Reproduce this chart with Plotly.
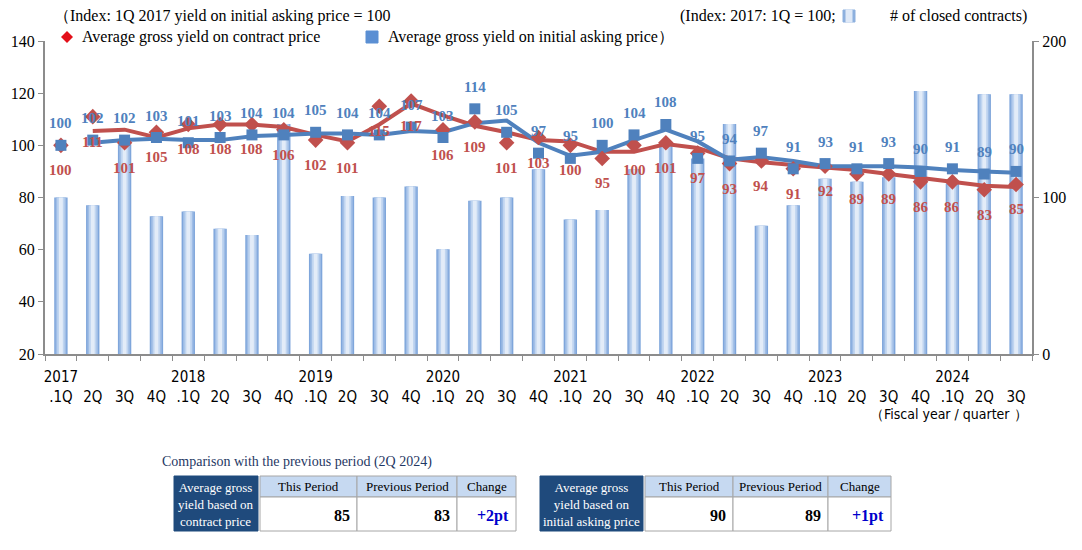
import plotly.graph_objects as go

# quarters 2017 1Q .. 2024 3Q
years = [2017, 2018, 2019, 2020, 2021, 2022, 2023, 2024]
quarters = ["1Q", "2Q", "3Q", "4Q"]
periods = [f"{y} {q}" for y in years for q in quarters][:31]
tick_text = [(p[:4] + "<br>.1Q") if p.endswith("1Q") else (" <br>" + p[5:]) for p in periods]

contract_yield = [100, 111, 101, 105, 108, 108, 108, 106, 102, 101, 115, 117, 106, 109, 101, 103,
                  100, 95, 100, 101, 97, 93, 94, 91, 92, 89, 89, 86, 86, 83, 85]
asking_yield = [100, 102, 102, 103, 101, 103, 104, 104, 105, 104, 104, 107, 103, 114, 105, 97,
                95, 100, 104, 108, 95, 94, 97, 91, 93, 91, 93, 90, 91, 89, 90]
closed_contracts = [100, 95, 134, 88, 91, 80, 76, 147, 64, 101, 100, 107, 67, 98, 100, 118,
                    86, 92, 118, 134, 125, 147, 82, 95, 112, 110, 113, 168, 109, 166, 166]

table_headers = ["This Period", "Previous Period", "Change"]
table_title = "Comparison with the previous period (2Q 2024)"

RED = "#c0504d"
BLUE = "#4f81bd"
GRAY = "#8c8c8c"
SERIF = "Liberation Serif, Times New Roman, serif"
NARROW = "Liberation Sans Narrow, DejaVu Sans Condensed, sans-serif"

# page has an 8px body margin, so the figure is a bit smaller than the window
W, H = 1066, 534
L, R, T, B = 37, 42, 33, 188
PW, PH = W - L - R, H - T - B
# plot area in window pixels
SX0, SY0 = L + 8, T + 8 + PH


def px(x):
    return (x - SX0) / PW


def py(y):
    return (SY0 - y) / PH


def moving_avg(vals):
    # Excel "2-period moving average" trendline
    return [(a + b) / 2 for a, b in zip(vals[:-1], vals[1:])]


fig = go.Figure()

# bars with a fake horizontal gradient (stacked overlays, narrower = lighter)
for w, c in [(0.42, "#7fa6db"), (0.33, "#9fbde6"), (0.23, "#c0d5f0"), (0.12, "#e3ecf8")]:
    fig.add_trace(go.Bar(x=periods, y=closed_contracts, width=w, marker_color=c,
                         marker_line_width=0, yaxis="y", showlegend=False, hoverinfo="skip"))

fig.add_trace(go.Scatter(x=periods[1:], y=moving_avg(contract_yield), mode="lines",
                         line=dict(color=RED, width=4), yaxis="y2", showlegend=False))
fig.add_trace(go.Scatter(x=periods[1:], y=moving_avg(asking_yield), mode="lines",
                         line=dict(color=BLUE, width=4), yaxis="y2", showlegend=False))
fig.add_trace(go.Scatter(x=periods, y=contract_yield, mode="markers",
                         marker=dict(symbol="diamond", size=12, color=RED), yaxis="y2",
                         showlegend=False))
fig.add_trace(go.Scatter(x=periods, y=asking_yield, mode="markers",
                         marker=dict(symbol="square", size=11, color=BLUE), yaxis="y2",
                         showlegend=False))

annotations = []
for p, v in zip(periods, contract_yield):
    annotations.append(dict(x=p, y=v, xref="x", yref="y2", text=f"<b>{v}</b>", showarrow=False,
                            yshift=-25, font=dict(family=SERIF, size=15, color=RED)))
for p, v in zip(periods, asking_yield):
    annotations.append(dict(x=p, y=v, xref="x", yref="y2", text=f"<b>{v}</b>", showarrow=False,
                            yshift=22, font=dict(family=SERIF, size=15, color=BLUE)))


def note(text, x, y, size=16, color="black", xanchor="left", family=SERIF):
    annotations.append(dict(x=px(x), y=py(y), xref="paper", yref="paper", text=text,
                            showarrow=False, xanchor=xanchor, yanchor="middle",
                            font=dict(family=family, size=size, color=color)))


shapes = []


def rect(x0, y0, x1, y1, fill, line=None):
    shapes.append(dict(type="rect", xref="paper", yref="paper", layer="above",
                       x0=px(x0), x1=px(x1), y0=py(y1), y1=py(y0), fillcolor=fill,
                       line=dict(color=line or fill, width=1)))


# legend-ish header (pushed down a little: the page margin eats the top 8px)
HY, LY = 16, 37
note("（Index: 1Q 2017 yield on initial asking price = 100", 52, HY)
note("(Index: 2017: 1Q = 100;", 838, HY, xanchor="right")
rect(843, HY - 6, 855, HY + 6, "#8db0de")
rect(846, HY - 6, 852, HY + 6, "#dfe9f7")
note("# of closed contracts)", 1029, HY, xanchor="right")

shapes.append(dict(type="path", xref="paper", yref="paper",
                   path=f"M {px(61)},{py(LY)} L {px(67)},{py(LY - 6)} L {px(73)},{py(LY)} "
                        f"L {px(67)},{py(LY + 6)} Z",
                   fillcolor="#e3101a", line=dict(width=0)))
note("Average gross yield on contract price", 80, LY)
rect(366, LY - 6, 378, LY + 6, "#5b8fd3")
note("Average gross yield on initial asking price）", 386, LY)

note("（Fiscal year / quarter ）", 1030, 414, size=14, xanchor="right", family=NARROW)

# comparison tables
note(table_title, 160, 462, size=14, color="#1f3864")
tables = [
    ("Average gross<br>yield based on<br>contract price", contract_yield, [174, 260, 357, 457, 516]),
    ("Average gross<br>yield based on<br>initial asking price", asking_yield, [540, 645, 733, 828, 891]),
]
top, mid, bot = 476, 497, 531
for label, vals, cols in tables:
    this_p, prev_p = vals[-1], vals[-2]
    cells = [f"<b>{this_p}</b>", f"<b>{prev_p}</b>", f"<b>{this_p - prev_p:+d}pt</b>"]
    rect(cols[0], top, cols[1] - 2, bot, "#1f4a7c")
    note(label, (cols[0] + cols[1] - 2) / 2, (top + bot) / 2 + 1, size=13, color="white",
         xanchor="center")
    for i in range(3):
        x0, x1 = cols[i + 1], cols[i + 2]
        rect(x0, top, x1, mid, "#c6d9f1", "#a6a6a6")
        rect(x0, mid, x1, bot, "white", "#a6a6a6")
        note(table_headers[i], (x0 + x1) / 2, (top + mid) / 2, size=13, xanchor="center")
        note(cells[i], x1 - 5, (mid + bot) / 2 + 2, size=16, xanchor="right",
             color="#0000cc" if i == 2 else "black")

axis_common = dict(showgrid=False, zeroline=False, showline=True, linecolor=GRAY, linewidth=2,
                   ticks="outside", ticklen=5, tickcolor=GRAY, automargin=False,
                   tickfont=dict(family=SERIF, size=16, color="black"))

fig.update_layout(
    width=W, height=H,
    margin=dict(l=L, r=R, t=T, b=B),
    paper_bgcolor="white", plot_bgcolor="white",
    barmode="overlay",
    showlegend=False,
    xaxis=dict(type="category", categoryorder="array", categoryarray=periods,
               range=[-0.5, 30.5], tickmode="array", tickvals=periods, ticktext=tick_text,
               tickangle=0, tickson="boundaries", showgrid=False, showline=True,
               linecolor=GRAY, linewidth=2, ticks="outside", ticklen=5, tickcolor=GRAY,
               automargin=False, ticklabelstandoff=8,
               tickfont=dict(family=NARROW, size=15, color="black")),
    yaxis=dict(side="right", range=[0, 200], tickvals=[0, 100, 200], **axis_common),
    yaxis2=dict(side="left", overlaying="y", range=[20, 140], dtick=20, **axis_common),
    annotations=annotations,
    shapes=shapes,
)

fig.write_html("out.html")
